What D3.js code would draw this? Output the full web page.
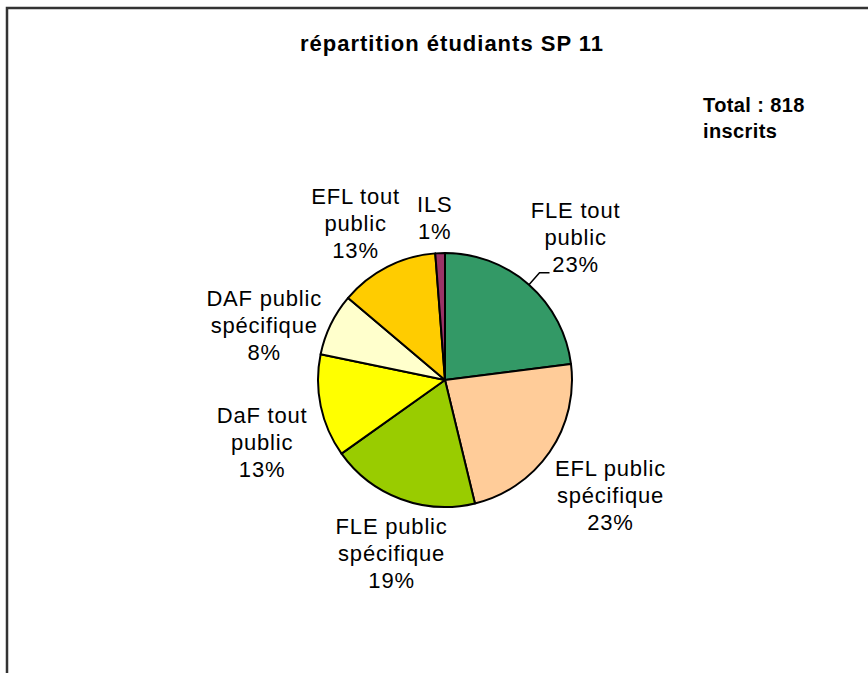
<!DOCTYPE html>
<html>
<head>
<meta charset="utf-8">
<script src="https://cdn.jsdelivr.net/npm/d3@7"></script>
<style>
  body { margin: 0; background: #fff; }
  svg { display: block; font-family: "Liberation Sans", Arial, sans-serif; }
</style>
</head>
<body>
<div id="chart"></div>
<script>
// chart data
const categories = ['FLE tout public', 'EFL public spécifique', 'FLE public spécifique',
  'DaF tout public', 'DAF public spécifique', 'EFL tout public', 'ILS'];
const labelLines = [['FLE tout', 'public'], ['EFL public', 'spécifique'], ['FLE public', 'spécifique'],
  ['DaF tout', 'public'], ['DAF public', 'spécifique'], ['EFL tout', 'public'], ['ILS']];
const counts = [188, 190, 155, 107, 65, 103, 10];
const colors = ['#339966', '#FFCC99', '#99CC00', '#FFFF00', '#FFFFCC', '#FFCC00', '#993366'];

const title = 'répartition étudiants SP 11';

const width = 868;
const height = 673;
const cx = 445;
const cy = 380;
const radius = 127;
const labelRadius = 190;
const lineHeight = 27;
const fontSize = 22;

// excel places labels a bit off the plain centroid
const labelNudge = [[5, 1], [9, 8], [13, -4], [3, 24], [-10, 29], [-3, 13], [-3, 28]];

var total = d3.sum(counts);

var svg = d3.select('#chart').append('svg')
  .attr('width', width)
  .attr('height', height);

// frame (only top and left edges visible)
svg.append('rect')
  .attr('x', 7)
  .attr('y', 8)
  .attr('width', width + 20)
  .attr('height', height + 20)
  .attr('fill', 'none')
  .attr('stroke', '#333')
  .attr('stroke-width', 2.5);

svg.append('text')
  .attr('x', 452)
  .attr('y', 51)
  .attr('text-anchor', 'middle')
  .style('font-size', '22px')
  .style('font-weight', 'bold')
  .style('letter-spacing', '1px')
  .text(title);

var totalText = svg.append('text')
  .attr('x', 703)
  .attr('y', 112)
  .style('font-size', '20px')
  .style('font-weight', 'bold')
  .style('letter-spacing', '0.4px');
totalText.append('tspan').attr('x', 703).text('Total : ' + total);
totalText.append('tspan').attr('x', 703).attr('dy', 26).text('inscrits');

var pie = d3.pie().sort(null).value(d => d);
var arcs = pie(counts);

var arc = d3.arc().innerRadius(0).outerRadius(radius);
var labelArc = d3.arc().innerRadius(labelRadius).outerRadius(labelRadius);

var g = svg.append('g').attr('transform', 'translate(' + cx + ',' + cy + ')');

g.selectAll('path.slice')
  .data(arcs)
  .enter().append('path')
  .attr('class', 'slice')
  .attr('d', arc)
  .attr('fill', (d, i) => colors[i])
  .attr('stroke', '#000')
  .attr('stroke-width', 2)
  .attr('stroke-linejoin', 'round');

var labels = g.selectAll('text.label')
  .data(arcs)
  .enter().append('text')
  .attr('class', 'label')
  .attr('text-anchor', 'middle')
  .style('font-size', fontSize + 'px')
  .style('letter-spacing', '0.8px')
  .attr('fill', '#000');

labels.each(function(d, i) {
  var c = labelArc.centroid(d);
  var x = c[0] + labelNudge[i][0];
  var y = c[1] + labelNudge[i][1];
  var lines = labelLines[i].concat([Math.round(d.value / total * 100) + '%']);
  var first = y + 7 - (lines.length - 1) / 2 * lineHeight;
  var t = d3.select(this);
  lines.forEach(function(line, j) {
    t.append('tspan')
      .attr('x', x)
      .attr('y', first + j * lineHeight)
      .text(line);
  });
});

// leader line for the first slice
var a0 = arcs[0];
var mid = (a0.startAngle + a0.endAngle) / 2;
var p1 = [Math.sin(mid) * radius, -Math.cos(mid) * radius];
var p2 = [Math.sin(mid) * (radius + 16), -Math.cos(mid) * (radius + 16)];
var p3 = [p2[0] + 10, p2[1]];
g.append('path')
  .attr('d', d3.line()([p1, p2, p3]))
  .attr('fill', 'none')
  .attr('stroke', '#000')
  .attr('stroke-width', 1.5);
</script>
</body>
</html>
